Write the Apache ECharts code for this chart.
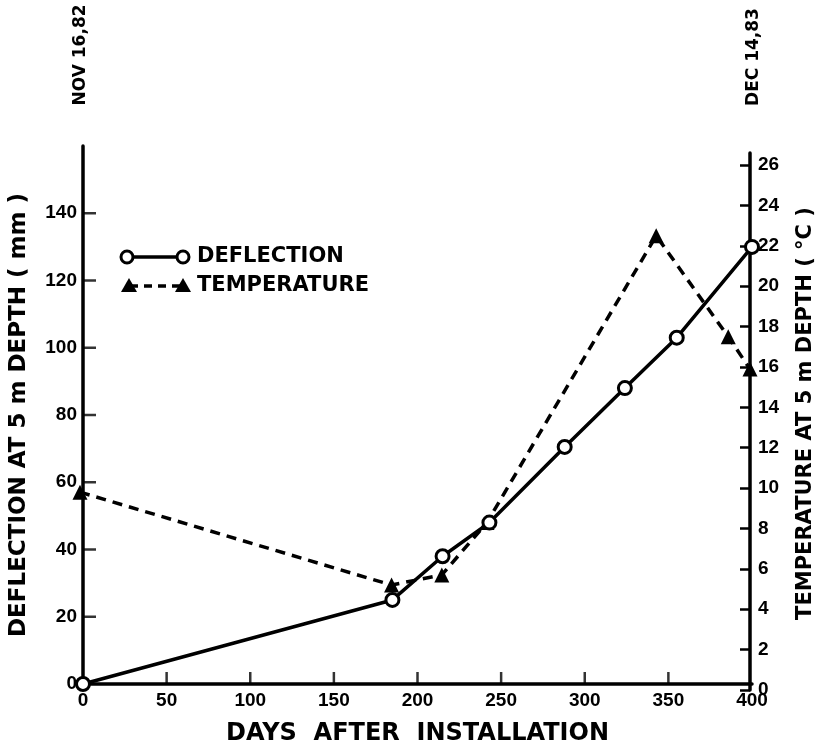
<!DOCTYPE html>
<html>
<head>
<meta charset="utf-8">
<script src="https://cdn.jsdelivr.net/npm/echarts@6/dist/echarts.min.js"></script>
<style>html,body{margin:0;padding:0;background:#fff}#c{width:824px;height:751px}</style>
</head>
<body>
<div id="c"></div>
<script>
// ---- data ----
const deflectionDays = [0, 185, 215, 243, 288, 324, 355, 400];
const deflectionMm = [0, 25, 38, 48, 70.5, 88, 103, 130];
const temperatureDays = [0, 186, 216, 243, 344, 387, 400];
const temperatureC = [9.8, 5.2, 5.7, 8.3, 22.5, 17.5, 15.9];
const xTicks = [0, 50, 100, 150, 200, 250, 300, 350, 400];
const leftTicks = [0, 20, 40, 60, 80, 100, 120, 140];
const rightTicks = [0, 2, 4, 6, 8, 10, 12, 14, 16, 18, 20, 22, 24, 26];
const seriesNames = ['DEFLECTION', 'TEMPERATURE'];
const dateLabels = ['NOV 16,82', 'DEC 14,83'];

const INK = '#000';
const tickFont = { color: INK, fontFamily: 'Liberation Sans', fontWeight: 'bold', fontSize: 19 };
const titleFont = 'DejaVu Sans';

const chart = echarts.init(document.getElementById('c'), null, { renderer: 'canvas' });

const option = {
  backgroundColor: '#fff',
  animation: false,
  grid: [
    { left: 80, right: 72, top: 146, bottom: 64 },
    { left: 80, right: 72, top: 153, bottom: 61 }
  ],
  xAxis: [
    {
      type: 'value', gridIndex: 0, min: 0, max: 400, interval: 50,
      name: 'DAYS  AFTER  INSTALLATION', nameLocation: 'middle', nameGap: 38,
      nameTextStyle: { color: INK, fontFamily: titleFont, fontWeight: 'bold', fontSize: 24 },
      axisLine: { show: true, onZero: false, lineStyle: { color: INK, width: 3.5 } },
      axisTick: { show: false },
      axisLabel: Object.assign({ margin: 7, showMinLabel: true, showMaxLabel: true }, tickFont),
      splitLine: { show: false }
    },
    {
      type: 'value', gridIndex: 1, min: 0, max: 400, show: false,
      splitLine: { show: false }
    }
  ],
  yAxis: [
    {
      type: 'value', gridIndex: 0, position: 'left', min: 0, max: 160, interval: 20,
      name: 'DEFLECTION AT 5 m DEPTH ( mm )', nameLocation: 'middle', nameGap: 52, nameRotate: 90,
      nameTextStyle: { color: INK, fontFamily: titleFont, fontWeight: 'bold', fontSize: 23 },
      axisLine: { show: true, onZero: false, lineStyle: { color: INK, width: 3.5 } },
      axisTick: { show: false },
      axisLabel: Object.assign({ margin: 6, showMaxLabel: false }, tickFont),
      splitLine: { show: false }
    },
    {
      type: 'value', gridIndex: 1, position: 'right', min: 0, max: 26.6,
      name: 'TEMPERATURE AT 5 m DEPTH ( °C )', nameLocation: 'middle', nameGap: 45, nameRotate: 90,
      nameTextStyle: { color: INK, fontFamily: titleFont, fontWeight: 'bold', fontSize: 21, padding: [0, 0, 0, 16] },
      axisLine: { show: true, onZero: false, lineStyle: { color: INK, width: 3.5 } },
      axisTick: { show: true, inside: true, length: 10, lineStyle: { color: INK, width: 2.5 }, customValues: rightTicks },
      axisLabel: Object.assign({ margin: 8, customValues: rightTicks }, tickFont),
      splitLine: { show: false }
    }
  ],
  series: [
    {
      // inward tick marks of the bottom axis
      name: 'xTicks', type: 'scatter', xAxisIndex: 0, yAxisIndex: 0, silent: true,
      data: xTicks.slice(1, -1).map(v => [v, 0]),
      symbol: 'rect', symbolSize: [2.5, 12], symbolOffset: [0, -6],
      itemStyle: { color: INK }, z: 1
    },
    {
      // inward tick marks of the left axis
      name: 'leftTicks', type: 'scatter', xAxisIndex: 0, yAxisIndex: 0, silent: true,
      data: leftTicks.slice(1).map(v => [0, v]),
      symbol: 'rect', symbolSize: [13, 2.5], symbolOffset: [6.5, 0],
      itemStyle: { color: INK }, z: 1
    },
    {
      name: seriesNames[0], type: 'line', xAxisIndex: 0, yAxisIndex: 0,
      data: deflectionDays.map((d, i) => [d, deflectionMm[i]]),
      symbol: 'circle', symbolSize: 13, showAllSymbol: true,
      lineStyle: { color: INK, width: 3.5, type: 'solid' },
      itemStyle: { color: '#fff', borderColor: INK, borderWidth: 3 },
      z: 3
    },
    {
      name: seriesNames[1], type: 'line', xAxisIndex: 1, yAxisIndex: 1,
      data: temperatureDays.map((d, i) => [d, temperatureC[i]]),
      symbol: 'triangle', symbolSize: 15, showAllSymbol: true,
      lineStyle: { color: INK, width: 3.5, type: [10, 7] },
      itemStyle: { color: INK, borderColor: INK, borderWidth: 0 },
      z: 2
    }
  ],
  graphic: [
    // legend: deflection
    { type: 'line', shape: { x1: 127, y1: 257, x2: 183, y2: 257 }, style: { stroke: INK, lineWidth: 3.5 } },
    { type: 'circle', shape: { cx: 127, cy: 257, r: 6 }, style: { fill: '#fff', stroke: INK, lineWidth: 3 } },
    { type: 'circle', shape: { cx: 183, cy: 257, r: 6 }, style: { fill: '#fff', stroke: INK, lineWidth: 3 } },
    { type: 'text', left: 197, top: 246, style: { text: seriesNames[0], fill: INK, font: 'bold 21px "DejaVu Sans"' } },
    // legend: temperature
    { type: 'line', shape: { x1: 130, y1: 286, x2: 182, y2: 286 }, style: { stroke: INK, lineWidth: 3.5, lineDash: [8, 6] } },
    { type: 'polygon', shape: { points: [[129, 278], [121, 292], [137, 292]] }, style: { fill: INK } },
    { type: 'polygon', shape: { points: [[183, 278], [175, 292], [191, 292]] }, style: { fill: INK } },
    { type: 'text', left: 197, top: 275, style: { text: seriesNames[1], fill: INK, font: 'bold 21px "DejaVu Sans"' } },
    // date labels above the axes
    { type: 'text', x: 81, y: 55, rotation: Math.PI / 2,
      style: { text: dateLabels[0], fill: INK, font: 'bold 17px "DejaVu Sans"', align: 'center', verticalAlign: 'middle' } },
    { type: 'text', x: 754, y: 57, rotation: Math.PI / 2,
      style: { text: dateLabels[1], fill: INK, font: 'bold 17px "DejaVu Sans"', align: 'center', verticalAlign: 'middle' } }
  ]
};
chart.setOption(option);
</script>
</body>
</html>
